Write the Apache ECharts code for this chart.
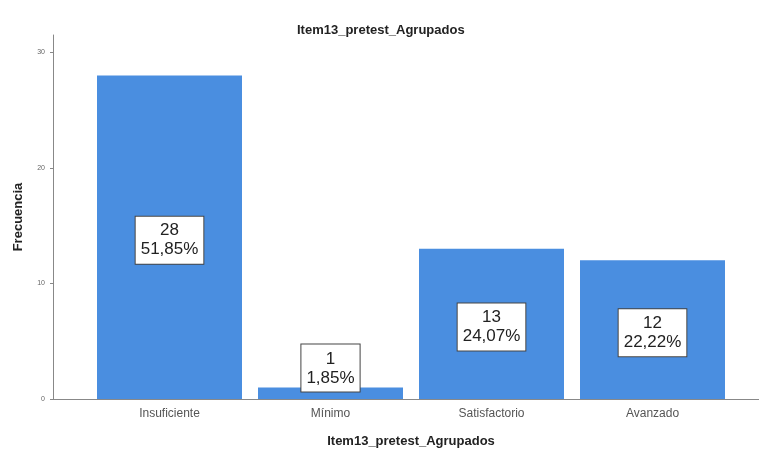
<!DOCTYPE html>
<html>
<head>
<meta charset="utf-8">
<script src="https://cdn.jsdelivr.net/npm/echarts@6/dist/echarts.min.js"></script>
<style>
  html, body { margin: 0; padding: 0; background: #fff; }
  #chart { width: 759px; height: 451px; }
</style>
</head>
<body>
<div id="chart"></div>
<script>
const categories = ["Insuficiente", "Mínimo", "Satisfactorio", "Avanzado"];
const counts = [28, 1, 13, 12];
const percents = ["51,85%", "1,85%", "24,07%", "22,22%"];
const yTicks = [0, 10, 20, 30];

const chart = echarts.init(document.getElementById("chart"));
const font = "Liberation Sans, Arial, sans-serif";
const plotTop = 35;
const plotBottom = 52;
const yMax = 31.5;

chart.setOption({
  animation: false,
  textStyle: { fontFamily: font },
  title: {
    text: "Item13_pretest_Agrupados",
    left: 292,
    top: 19,
    textStyle: { fontSize: 13, fontWeight: "bold", color: "#222", fontFamily: font },
  },
  grid: [
    { left: 53, right: 0, top: plotTop, bottom: plotBottom, outerBoundsMode: "none", containLabel: false },
    { left: 89, right: 26, top: plotTop, bottom: plotBottom, outerBoundsMode: "none", containLabel: false },
  ],
  xAxis: [
    {
      gridIndex: 0,
      type: "value",
      min: 0,
      max: 1,
      axisLine: { show: true, lineStyle: { color: "#888", width: 1 } },
      axisTick: { show: false },
      axisLabel: { show: false },
      splitLine: { show: false },
    },
    {
      gridIndex: 1,
      type: "category",
      data: categories,
      axisLine: { show: false },
      axisTick: { show: false },
      axisLabel: { color: "#555", fontSize: 12, margin: 9 },
      name: "Item13_pretest_Agrupados",
      nameLocation: "middle",
      nameGap: 36,
      nameTextStyle: { fontSize: 13, fontWeight: "bold", color: "#222" },
    },
  ],
  yAxis: [
    {
      gridIndex: 0,
      type: "value",
      min: 0,
      max: yMax,
      interval: 10,
      axisLine: { show: true, lineStyle: { color: "#888", width: 1 } },
      axisTick: { show: true, length: 3, lineStyle: { color: "#888" },
        customValues: yTicks },
      axisLabel: { color: "#666", fontSize: 7, margin: 8, customValues: yTicks },
      splitLine: { show: false },
      name: "Frecuencia",
      nameLocation: "middle",
      nameGap: 28,
      nameTextStyle: { fontSize: 13, fontWeight: "bold", color: "#222" },
    },
    {
      gridIndex: 1,
      type: "value",
      min: 0,
      max: yMax,
      show: false,
      splitLine: { show: false },
    },
  ],
  series: [
    {
      type: "bar",
      xAxisIndex: 1,
      yAxisIndex: 1,
      barWidth: 145,
      itemStyle: { color: "#4a8ee0" },
      data: counts.map((v) => ({
        value: v,
        label: v < 3 ? { position: "top", distance: -1 } : undefined,
      })),
      label: {
        show: true,
        position: "inside",
        offset: [0, 3],
        formatter: (p) => p.value + "\n" + percents[p.dataIndex],
        fontSize: 17,
        lineHeight: 19,
        color: "#222",
        backgroundColor: "#fff",
        borderColor: "#444",
        borderWidth: 1,
        padding: [5, 5, 4, 5],
        align: "center",
      },
    },
  ],
});
</script>
</body>
</html>
